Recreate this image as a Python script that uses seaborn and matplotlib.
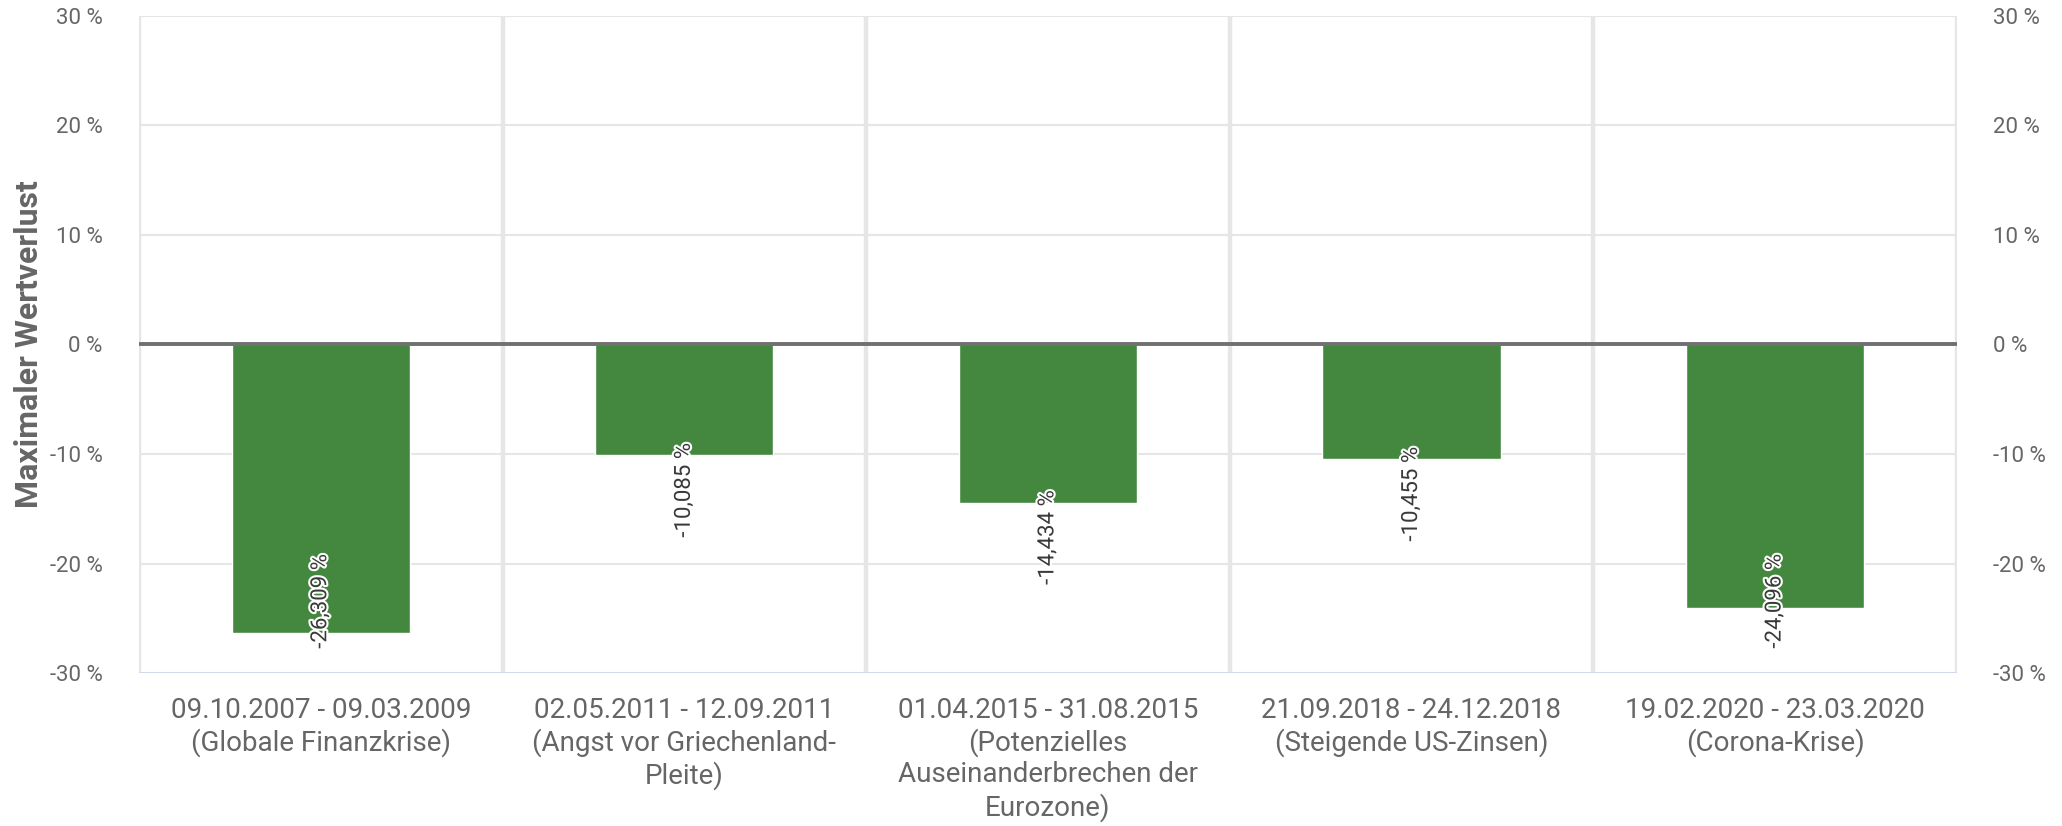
import matplotlib
matplotlib.use("Agg")
import matplotlib.pyplot as plt
import matplotlib.patheffects as pe
import pandas as pd
import seaborn as sns

categories = [
    "09.10.2007 - 09.03.2009\n(Globale Finanzkrise)",
    "02.05.2011 - 12.09.2011\n(Angst vor Griechenland-\nPleite)",
    "01.04.2015 - 31.08.2015\n(Potenzielles\nAuseinanderbrechen der\nEurozone)",
    "21.09.2018 - 24.12.2018\n(Steigende US-Zinsen)",
    "19.02.2020 - 23.03.2020\n(Corona-Krise)",
]
drawdown = [-26.309, -10.085, -14.434, -10.455, -24.096]
y_ticks = [-30, -20, -10, 0, 10, 20, 30]

df = pd.DataFrame({"Zeitraum": categories, "Verlust": drawdown})

sns.set_theme(style="white")
plt.rcParams["font.family"] = ["Roboto", "DejaVu Sans"]

fig, ax = plt.subplots(figsize=(20.62, 8.26), dpi=100)
fig.subplots_adjust(left=0.0674, right=0.949, top=0.981, bottom=0.185)

sns.barplot(data=df, x="Zeitraum", y="Verlust", color="#44883F", width=0.49,
            saturation=1, ax=ax, zorder=3)

ax.set_ylim(-30, 30)
ax.set_xlim(-0.5, len(categories) - 0.5)
ax.set_yticks(y_ticks)
ax.set_yticklabels([f"{t} %" for t in y_ticks])

# gridlines
for t in y_ticks:
    ax.axhline(t, color="#e6e6e6", lw=1.5, zorder=1)
for i in range(len(categories) + 1):
    ax.axvline(i - 0.5, color="#e6e6e6", lw=3.2, zorder=1)
ax.axhline(0, color="#707070", lw=2.8, zorder=4)
ax.axhline(-30, color="#ccd6eb", lw=1.8, zorder=4)

for s in ax.spines.values():
    s.set_visible(False)

ax.tick_params(axis="y", labelright=True, left=False, right=False,
               labelsize=16, labelcolor="#666666", pad=20)
ax.tick_params(axis="x", bottom=False, labelsize=20, labelcolor="#666666", pad=11)
for lab in ax.get_xticklabels():
    lab.set_linespacing(1.2)

ax.set_xlabel("")
ax.set_ylabel("Maximaler Wertverlust", fontsize=23, fontweight="bold", color="#666666")
ax.yaxis.set_label_coords(-0.052, 0.5)

# value labels
for i, v in enumerate(drawdown):
    top = max(v + 1.1, -19.1)
    ax.text(i, top, f"{v:.3f}".replace(".", ",") + " %", rotation=90,
            ha="center", va="top", fontsize=16, color="#3a3a3a", zorder=5,
            path_effects=[pe.withStroke(linewidth=3, foreground="white")])

fig.savefig("out.png", dpi=100)
